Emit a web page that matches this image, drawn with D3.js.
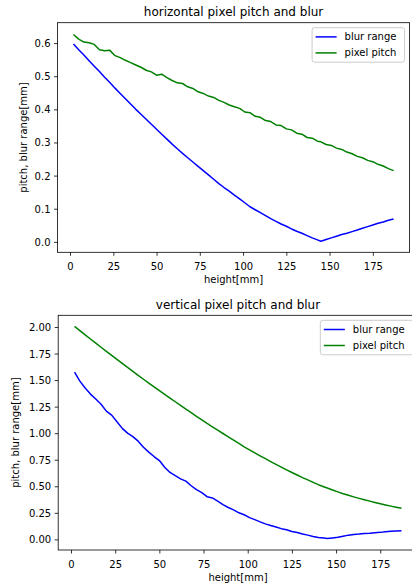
<!DOCTYPE html>
<html>
<head>
<meta charset="utf-8">
<script src="https://cdn.jsdelivr.net/npm/d3@7"></script>
<style>
  html, body { margin: 0; padding: 0; background: #fff; }
  svg { display: block; font-family: "DejaVu Sans", sans-serif; }
</style>
</head>
<body>
<svg id="chart" width="412" height="585"></svg>
<script>
// --- data ---
const heights = [2, 5, 8, 11, 14, 17, 20, 23, 26, 29, 32, 35, 38, 41, 44, 47, 50, 53, 56, 59,
  62, 65, 68, 71, 74, 77, 80, 83, 86, 89, 92, 95, 98, 101, 104, 107, 110, 113, 116, 119,
  122, 125, 128, 131, 134, 137, 140, 143, 145, 148, 151, 154, 157, 160, 163, 166, 169, 172,
  175, 178, 181, 184, 187];

// horizontal panel
const hBlur = [0.597, 0.580, 0.564, 0.547, 0.530, 0.514, 0.497, 0.481, 0.464, 0.448,
  0.432, 0.416, 0.400, 0.385, 0.370, 0.355, 0.340, 0.325, 0.310, 0.295,
  0.281, 0.267, 0.254, 0.241, 0.228, 0.215, 0.202, 0.189, 0.176, 0.164,
  0.153, 0.141, 0.130, 0.118, 0.106, 0.097, 0.088, 0.079, 0.070, 0.062,
  0.054, 0.047, 0.039, 0.032, 0.026, 0.019, 0.012, 0.006, 0.002, 0.007,
  0.012, 0.017, 0.022, 0.026, 0.031, 0.036, 0.041, 0.046, 0.051, 0.056,
  0.060, 0.065, 0.069];
const hPitch = [0.626, 0.612, 0.603, 0.601, 0.596, 0.580, 0.577, 0.578, 0.562, 0.556,
  0.548, 0.541, 0.534, 0.527, 0.518, 0.513, 0.503, 0.506, 0.496, 0.487,
  0.480, 0.478, 0.468, 0.463, 0.453, 0.448, 0.440, 0.436, 0.427, 0.421,
  0.413, 0.408, 0.403, 0.392, 0.390, 0.379, 0.376, 0.366, 0.363, 0.353,
  0.351, 0.341, 0.338, 0.328, 0.325, 0.315, 0.313, 0.304, 0.302, 0.294,
  0.291, 0.283, 0.279, 0.271, 0.266, 0.258, 0.254, 0.246, 0.242, 0.234,
  0.229, 0.221, 0.215];

// vertical panel
const vBlur = [1.575, 1.490, 1.425, 1.368, 1.322, 1.272, 1.208, 1.170, 1.108, 1.045,
  1.000, 0.968, 0.925, 0.868, 0.822, 0.780, 0.742, 0.680, 0.630, 0.600,
  0.570, 0.548, 0.505, 0.468, 0.440, 0.402, 0.390, 0.360, 0.328, 0.300,
  0.278, 0.250, 0.232, 0.205, 0.186, 0.165, 0.146, 0.130, 0.116, 0.101,
  0.090, 0.075, 0.064, 0.050, 0.040, 0.028, 0.018, 0.012, 0.008, 0.014,
  0.020, 0.030, 0.040, 0.046, 0.050, 0.056, 0.058, 0.062, 0.066, 0.072,
  0.076, 0.079, 0.081];
const vPitch = [2.005, 1.966, 1.926, 1.887, 1.848, 1.809, 1.770, 1.732, 1.695, 1.657,
  1.620, 1.582, 1.545, 1.508, 1.472, 1.436, 1.400, 1.365, 1.331, 1.296,
  1.262, 1.227, 1.193, 1.159, 1.126, 1.093, 1.060, 1.028, 0.997, 0.965,
  0.934, 0.903, 0.872, 0.843, 0.815, 0.787, 0.760, 0.733, 0.707, 0.681,
  0.655, 0.630, 0.606, 0.582, 0.560, 0.537, 0.515, 0.496, 0.484, 0.465,
  0.447, 0.430, 0.415, 0.400, 0.386, 0.373, 0.360, 0.348, 0.336, 0.324,
  0.313, 0.303, 0.293];

const xTicks = [0, 25, 50, 75, 100, 125, 150, 175];
const hYTicks = [0, 0.1, 0.2, 0.3, 0.4, 0.5, 0.6];
const vYTicks = [0, 0.25, 0.5, 0.75, 1.0, 1.25, 1.5, 1.75, 2.0];
const seriesNames = ["blur range", "pixel pitch"];
const seriesColors = ["blue", "green"];

const svg = d3.select("#chart");

/**
 * Draws one matplotlib-style panel (frame, ticks, lines, legend).
 */
function drawPanel(cfg) {
    const { left, right, top, bottom } = cfg.box;
    const x = d3.scaleLinear().domain([-7.25, 196.25]).range([left, right]);
    const y = d3.scaleLinear().domain(cfg.yDomain).range([bottom, top]);

    const g = svg.append("g");

    // white axes background
    g.append("rect")
        .attr("x", left).attr("y", top)
        .attr("width", right - left).attr("height", bottom - top)
        .attr("fill", "#fff");

    // data lines
    const line = d3.line().x(d => x(d[0])).y(d => y(d[1]));
    cfg.series.forEach((vals, i) => {
        g.append("path")
            .datum(heights.map((h, j) => [h, vals[j]]))
            .attr("d", line)
            .attr("fill", "none")
            .attr("stroke", seriesColors[i])
            .attr("stroke-width", 1.5)
            .attr("stroke-linejoin", "round");
    });

    // x axis
    const xAxis = g.append("g")
        .attr("transform", `translate(0,${bottom})`)
        .call(d3.axisBottom(x).tickValues(xTicks).tickFormat(d3.format("d"))
            .tickSize(3.5).tickPadding(3.5).tickSizeOuter(0));
    xAxis.select(".domain").remove();
    xAxis.selectAll("line").attr("stroke", "#000").attr("stroke-width", 0.8);
    xAxis.selectAll("text")
        .attr("font-size", 10).attr("fill", "#000")
        .attr("font-family", "DejaVu Sans")
        .attr("dy", null).attr("y", 17.7);

    // y axis
    const yAxis = g.append("g")
        .attr("transform", `translate(${left},0)`)
        .call(d3.axisLeft(y).tickValues(cfg.yTicks).tickFormat(d3.format(cfg.yFormat))
            .tickSize(3.5).tickPadding(3.5).tickSizeOuter(0));
    yAxis.select(".domain").remove();
    yAxis.selectAll("line").attr("stroke", "#000").attr("stroke-width", 0.8);
    yAxis.selectAll("text")
        .attr("font-size", 10).attr("fill", "#000")
        .attr("font-family", "DejaVu Sans")
        .attr("dy", "0.35em");

    // frame
    g.append("rect")
        .attr("x", left).attr("y", top)
        .attr("width", right - left).attr("height", bottom - top)
        .attr("fill", "none")
        .attr("stroke", "#000")
        .attr("stroke-width", 0.8);

    // title and axis labels
    g.append("text")
        .attr("x", (left + right) / 2).attr("y", top - 6.3)
        .attr("text-anchor", "middle")
        .attr("font-size", 12)
        .text(cfg.title);

    g.append("text")
        .attr("x", (left + right) / 2).attr("y", bottom + 31)
        .attr("text-anchor", "middle")
        .attr("font-size", 10)
        .text("height[mm]");

    g.append("text")
        .attr("transform", `translate(${cfg.ylabelX},${(top + bottom) / 2}) rotate(-90)`)
        .attr("text-anchor", "middle")
        .attr("font-size", 10)
        .text("pitch, blur range[mm]");

    // legend, upper right
    const lgW = 92.5, lgH = 34.5;
    const lg = g.append("g").attr("transform", `translate(${right - 5 - lgW},${top + 5})`);
    lg.append("rect")
        .attr("x", 0).attr("y", 0)
        .attr("width", lgW).attr("height", lgH)
        .attr("rx", 2.5)
        .attr("fill", "#fff").attr("fill-opacity", 0.8)
        .attr("stroke", "#cccccc").attr("stroke-width", 1);
    seriesNames.forEach((name, i) => {
        const cy = 9.2 + i * 16;
        lg.append("line")
            .attr("x1", 3.5).attr("x2", 24.5)
            .attr("y1", cy).attr("y2", cy)
            .attr("stroke", seriesColors[i])
            .attr("stroke-width", 1.5);
        lg.append("text")
            .attr("x", 32.5).attr("y", cy + 3.6)
            .attr("font-size", 10)
            .text(name);
    });
}

drawPanel({
    title: "horizontal pixel pitch and blur",
    box: { left: 57.5, right: 409.6, top: 22.7, bottom: 252.3 },
    yDomain: [-0.0315, 0.6615],
    yTicks: hYTicks,
    yFormat: ".1f",
    ylabelX: 26.5,
    series: [hBlur, hPitch]
});

drawPanel({
    title: "vertical pixel pitch and blur",
    box: { left: 58.2, right: 417.8, top: 315.3, bottom: 550 },
    yDomain: [-0.1, 2.11],
    yTicks: vYTicks,
    yFormat: ".2f",
    ylabelX: 19,
    series: [vBlur, vPitch]
});
</script>
</body>
</html>
